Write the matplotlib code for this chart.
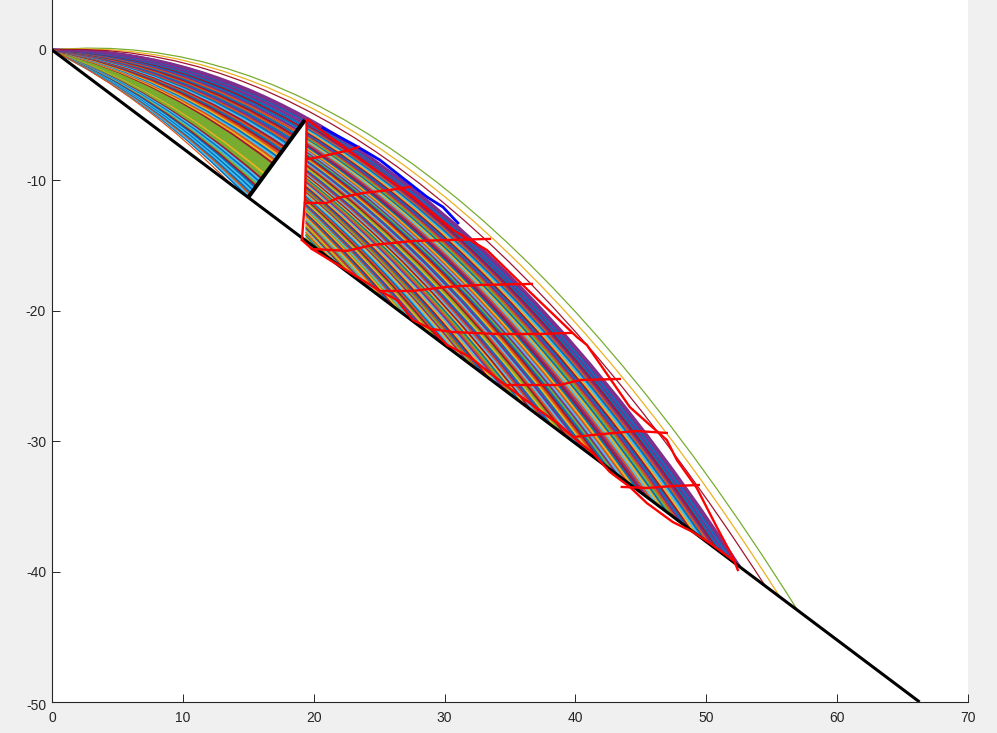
import matplotlib
matplotlib.use("Agg")
import matplotlib.pyplot as plt
from matplotlib.path import Path
from matplotlib.patches import PathPatch
from matplotlib.transforms import ScaledTranslation

plt.rcParams['font.family'] = ['Liberation Sans', 'DejaVu Sans']
plt.rcParams['axes.unicode_minus'] = False

xticks = [0, 10, 20, 30, 40, 50, 60, 70]
yticks = [-50, -40, -30, -20, -10, 0]

palette = {'B': '#0072BD', 'O': '#D95319', 'Y': '#EDB120', 'P': '#7E2F8E', 'G': '#77AC30', 'C': '#4DBEEE', 'D': '#A2142F'}

# Upper fan: end point on the thick line and Bezier control point, top curve first
fan_end_x = [19.40, 19.40, 19.40, 19.39, 19.38, 19.28, 19.18, 19.08, 18.98, 18.88, 18.77, 18.67, 18.57, 18.47, 18.37, 18.27, 18.18, 18.08,
             17.98, 17.88, 17.79, 17.69, 17.60, 17.50, 17.41, 17.32, 17.23, 17.13, 17.04, 16.95, 16.86, 16.77, 16.68, 16.59, 16.50, 16.41,
             16.33, 16.24, 16.16, 16.07, 15.99, 15.90, 15.82, 15.73, 15.65, 15.57, 15.49, 15.41, 15.33, 15.25, 15.17, 15.09, 15.01]
fan_end_y = [-5.15, -5.25, -5.34, -5.44, -5.53, -5.66, -5.79, -5.92, -6.05, -6.19, -6.33, -6.46, -6.59, -6.72, -6.86, -6.98, -7.11, -7.24,
             -7.37, -7.49, -7.62, -7.75, -7.87, -8.00, -8.12, -8.24, -8.36, -8.48, -8.61, -8.73, -8.85, -8.97, -9.09, -9.20, -9.32, -9.43,
             -9.55, -9.66, -9.77, -9.88, -10.00, -10.11, -10.22, -10.33, -10.44, -10.55, -10.65, -10.76, -10.87, -10.97, -11.08, -11.18, -11.29]
fan_ctrl_x = [9.70, 9.70, 9.70, 9.70, 9.69, 9.64, 9.59, 9.54, 9.49, 9.44, 9.39, 9.34, 9.29, 9.24, 9.19, 9.14, 9.09, 9.04,
              8.99, 8.94, 8.90, 8.85, 8.80, 8.75, 8.71, 8.66, 8.61, 8.56, 8.52, 8.47, 8.43, 8.38, 8.34, 8.30, 8.25, 8.20,
              8.16, 8.12, 8.08, 8.03, 7.99, 7.95, 7.91, 7.87, 7.83, 7.79, 7.74, 7.70, 7.66, 7.62, 7.59, 7.55, 7.51]
fan_ctrl_y = [0.19, 0.15, 0.10, 0.05, 0.00, -0.10, -0.19, -0.29, -0.38, -0.47, -0.56, -0.65, -0.74, -0.83, -0.92, -1.01, -1.09, -1.18,
              -1.26, -1.34, -1.42, -1.50, -1.58, -1.66, -1.74, -1.81, -1.89, -1.97, -2.04, -2.12, -2.19, -2.26, -2.34, -2.41, -2.48, -2.55,
              -2.61, -2.68, -2.75, -2.81, -2.88, -2.95, -3.01, -3.07, -3.13, -3.19, -3.25, -3.31, -3.37, -3.43, -3.49, -3.55, -3.60]
fan_colors = "PPPBPPBDBPOBDOBPOBCDOBDOYBCOYDGGGGGGYGGDCBCGDBCBCBOCB"

# Lower fan: start on the wall, Bezier control height, landing point on the ramp
wall_x = 19.4
low_start_y = [-5.15, -5.25, -5.34, -5.44, -5.54, -5.63, -5.73, -5.83, -5.93, -6.02, -6.12, -6.22, -6.32, -6.42, -6.52,
               -6.62, -6.72, -6.82, -6.92, -7.02, -7.12, -7.22, -7.33, -7.43, -7.53, -7.63, -7.74, -7.84, -7.94, -8.05,
               -8.15, -8.25, -8.36, -8.46, -8.57, -8.67, -8.78, -8.88, -8.99, -9.10, -9.21, -9.31, -9.42, -9.53, -9.64,
               -9.74, -9.85, -9.96, -10.07, -10.18, -10.29, -10.40, -10.51, -10.62, -10.73, -10.84, -10.95, -11.06, -11.18,
               -11.29, -11.40, -11.51, -11.63, -11.74, -11.85, -11.96, -12.08, -12.19, -12.31, -12.42, -12.54, -12.65, -12.77,
               -12.88, -13.00, -13.12, -13.24, -13.35, -13.47, -13.59, -13.71, -13.82, -13.94, -14.06, -14.18, -14.30, -14.42]
low_ctrl_y = [-14.29, -14.38, -14.47, -14.55, -14.63, -14.71, -14.78, -14.86, -14.93, -15.00, -15.07, -15.14, -15.21, -15.28, -15.34,
              -15.40, -15.46, -15.52, -15.57, -15.62, -15.67, -15.72, -15.77, -15.82, -15.86, -15.90, -15.94, -15.98, -16.01, -16.05,
              -16.08, -16.11, -16.13, -16.16, -16.18, -16.20, -16.22, -16.24, -16.26, -16.27, -16.28, -16.29, -16.30, -16.31, -16.31,
              -16.31, -16.31, -16.31, -16.30, -16.30, -16.29, -16.28, -16.27, -16.26, -16.24, -16.22, -16.19, -16.17, -16.15,
              -16.13, -16.10, -16.07, -16.03, -16.00, -15.96, -15.93, -15.89, -15.85, -15.81, -15.77, -15.72, -15.67, -15.62,
              -15.57, -15.52, -15.47, -15.41, -15.35, -15.28, -15.22, -15.16, -15.10, -15.03, -14.97, -14.90, -14.83, -14.75]
low_land_x = [52.61, 52.28, 51.95, 51.61, 51.27, 50.93, 50.59, 50.24, 49.89, 49.54, 49.19, 48.83, 48.47, 48.11, 47.75,
              47.39, 47.02, 46.65, 46.28, 45.91, 45.54, 45.17, 44.79, 44.41, 44.03, 43.65, 43.27, 42.89, 42.50, 42.12,
              41.73, 41.34, 40.95, 40.56, 40.17, 39.78, 39.38, 38.99, 38.60, 38.21, 37.81, 37.42, 37.02, 36.62, 36.22,
              35.83, 35.43, 35.04, 34.64, 34.24, 33.84, 33.45, 33.05, 32.66, 32.26, 31.87, 31.47, 31.08, 30.68,
              30.29, 29.89, 29.50, 29.10, 28.71, 28.32, 27.93, 27.54, 27.16, 26.77, 26.39, 26.00, 25.62, 25.23,
              24.85, 24.47, 24.10, 23.72, 23.35, 22.97, 22.60, 22.22, 21.85, 21.48, 21.12, 20.75, 20.39, 20.03]
low_land_y = [-39.67, -39.42, -39.17, -38.92, -38.66, -38.40, -38.14, -37.88, -37.62, -37.36, -37.09, -36.82, -36.55, -36.28, -36.00,
              -35.73, -35.45, -35.18, -34.90, -34.62, -34.34, -34.06, -33.77, -33.49, -33.20, -32.92, -32.63, -32.34, -32.05, -31.76,
              -31.46, -31.17, -30.88, -30.59, -30.29, -29.99, -29.69, -29.40, -29.10, -28.81, -28.51, -28.21, -27.91, -27.61, -27.31,
              -27.01, -26.71, -26.42, -26.12, -25.82, -25.52, -25.22, -24.92, -24.62, -24.32, -24.03, -23.73, -23.43, -23.13,
              -22.84, -22.54, -22.24, -21.94, -21.65, -21.35, -21.06, -20.77, -20.47, -20.18, -19.89, -19.60, -19.31, -19.02,
              -18.74, -18.45, -18.17, -17.88, -17.60, -17.32, -17.03, -16.75, -16.48, -16.20, -15.93, -15.65, -15.38, -15.10]
low_colors = "PPBPBDPOBCYDBPOGBYCOPDBYOCPGBDOYBPCODGYBPOCDYBGOPCYDBOGPYCBODGYPBOCGYDBOYCGPOYGDCYOGBYGO"

# Three isolated outer curves and the lowest curve of the upper fan
outer_land_x = [57.0, 55.6, 54.5, 13.8]
outer_land_y = [-43.0, -41.9, -41.1, -10.41]
outer_ctrl_x = [28.5, 27.8, 27.25, 6.9]
outer_ctrl_y = [2.62, 1.93, 1.35, -3.45]
outer_colors = "GYDO"

ramp_x, ramp_y = [0, 66.3], [0, -50]
gate_x, gate_y = [15.0, 19.33], [-11.3, -5.37]

blue_edge_x = [20.7, 23.38, 25.06, 26.81, 28.65, 29.87, 31.02]
blue_edge_y = [-5.98, -7.44, -8.44, -9.82, -11.27, -12.04, -13.27]

red_wall_x = [19.48, 19.40, 19.33, 19.10]
red_wall_y = [-5.37, -8.43, -11.50, -14.57]
red_right_x = [19.56, 21.24, 25.82, 27.58, 30.63, 33.23, 36.52, 40.11, 40.87, 44.16, 46.98, 47.75, 49.27, 50.80, 52.02, 52.41]
red_right_y = [-5.37, -6.67, -9.97, -11.27, -13.80, -15.34, -18.56, -22.01, -22.62, -27.39, -29.91, -31.44, -33.59, -36.58, -38.88, -39.88]
red_low_x = [19.10, 19.86, 22.23, 25.06, 26.36, 27.58, 29.11, 30.18, 31.93, 33.46, 34.84, 35.98, 38.81, 39.80, 41.33, 42.63, 44.16, 45.45, 47.44, 48.97, 50.27, 52.02]
red_low_y = [-14.57, -15.26, -16.72, -18.48, -19.17, -20.71, -21.47, -22.62, -23.54, -24.77, -25.84, -26.69, -28.76, -29.68, -30.91, -32.36, -33.51, -34.74, -36.20, -36.96, -37.81, -39.11]

cross_1_x = [19.56, 20.47, 21.77, 22.77, 23.45]
cross_1_y = [-8.36, -8.20, -7.90, -7.67, -7.44]
cross_2_x = [19.33, 21.00, 21.85, 23.76, 25.82, 27.35]
cross_2_y = [-11.73, -11.73, -11.35, -10.97, -10.74, -10.50]
cross_3_x = [19.86, 22.54, 24.52, 27.58, 33.46]
cross_3_y = [-15.26, -15.41, -14.95, -14.65, -14.49]
cross_4_x = [25.06, 27.58, 30.18, 32.70, 36.67]
cross_4_y = [-18.48, -18.48, -18.17, -18.02, -17.94]
cross_5_x = [29.03, 30.63, 34.00, 37.28, 39.65]
cross_5_y = [-21.40, -21.63, -21.78, -21.78, -21.70]
cross_6_x = [34.76, 38.81, 40.34, 43.39]
cross_6_y = [-25.69, -25.69, -25.31, -25.23]
cross_7_x = [39.80, 42.09, 44.69, 46.98]
cross_7_y = [-29.68, -29.45, -29.22, -29.37]
cross_8_x = [43.54, 45.45, 47.44, 49.43]
cross_8_y = [-33.51, -33.59, -33.44, -33.36]

fig = plt.figure(figsize=(9.97, 7.33), dpi=100, facecolor='#F0F0F0')
ax = fig.add_axes([52 / 997, 31 / 733, 916 / 997, 702 / 733], facecolor='white')


def bez(x0, y0, cx, cy, x1, y1, color, lw, z):
    p = Path([(x0, y0), (cx, cy), (x1, y1)], [Path.MOVETO, Path.CURVE3, Path.CURVE3])
    ax.add_patch(PathPatch(p, fill=False, edgecolor=color, lw=lw, capstyle='butt', zorder=z))


for i in range(len(fan_end_x) - 1, -1, -1):
    bez(0, 0, fan_ctrl_x[i], fan_ctrl_y[i], fan_end_x[i], fan_end_y[i],
        palette[fan_colors[i % len(fan_colors)]], 1.7, 2)

for i in range(len(low_land_x) - 1, -1, -1):
    cx = (wall_x + low_land_x[i]) / 2
    bez(wall_x, low_start_y[i], cx, low_ctrl_y[i], low_land_x[i], low_land_y[i],
        palette[low_colors[i % len(low_colors)]], 1.7, 2)

for i in range(len(outer_land_x)):
    bez(0, 0, outer_ctrl_x[i], outer_ctrl_y[i], outer_land_x[i], outer_land_y[i], palette[outer_colors[i]], 0.9, 2)

ax.plot(blue_edge_x, blue_edge_y, color='#0000FF', lw=2.0, zorder=3)
ax.plot(ramp_x, ramp_y, color='black', lw=2.2, zorder=4, solid_capstyle='butt')
ax.plot(gate_x, gate_y, color='black', lw=2.9, zorder=4, solid_capstyle='butt')

for xs, ys in [(red_wall_x, red_wall_y), (red_right_x, red_right_y), (red_low_x, red_low_y),
               (cross_1_x, cross_1_y), (cross_2_x, cross_2_y), (cross_3_x, cross_3_y), (cross_4_x, cross_4_y),
               (cross_5_x, cross_5_y), (cross_6_x, cross_6_y), (cross_7_x, cross_7_y), (cross_8_x, cross_8_y)]:
    ax.plot(xs, ys, color='#FF0000', lw=1.7, zorder=5)

ax.set_xlim(0, 70)
ax.set_ylim(-50, 3.83)
ax.set_xticks(xticks)
ax.set_yticks(yticks)
ax.tick_params(direction='in', length=6, width=0.7, labelsize=10, colors='#262626')
ax.tick_params(axis='x', pad=6.3)
ax.tick_params(axis='y', pad=4.3)
bottom_label = ax.get_yticklabels()[0]
bottom_label.set_transform(bottom_label.get_transform() + ScaledTranslation(0, -2 / 100, fig.dpi_scale_trans))
for s in ['top', 'right']:
    ax.spines[s].set_visible(False)
for s in ['left', 'bottom']:
    ax.spines[s].set_color('#262626')
    ax.spines[s].set_linewidth(0.8)

fig.savefig('out.png', dpi=100, facecolor=fig.get_facecolor())
